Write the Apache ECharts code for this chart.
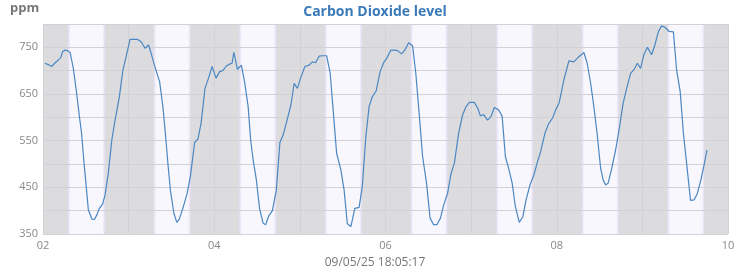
<!DOCTYPE html>
<html>
<head>
<meta charset="utf-8">
<script src="https://cdn.jsdelivr.net/npm/echarts@6/dist/echarts.min.js"></script>
<style>
html,body{margin:0;padding:0;background:#fff;}
#chart{width:750px;height:270px;}
</style>
</head>
<body>
<div id="chart"></div>
<script>
// hours since 02 00:00
const hours = [0.5,1.5,2.4,3.4,4.3,5.0,5.5,6.2,6.8,7.6,8.5,9.3,10.2,10.8,11.5,12.3,12.7,13.7,14.4,15.1,15.8,16.7,17.4,18.3,19.3,20.2,21.4,22.4,23.3,
24.4,26.5,27.5,28.6,29.6,30.3,31.5,32.7,33.6,34.3,35.0,35.7,36.7,37.5,38.2,39.2,40.4,41.3,42.5,43.4,44.3,45.4,46.4,47.4,
48.5,49.5,50.4,51.4,52.3,53.0,53.5,54.5,55.6,56.5,57.5,58.2,58.9,59.8,60.7,61.7,62.4,63.3,64.3,65.4,66.4,67.3,68.3,69.5,70.4,71.3,
72.2,73.4,74.6,75.5,76.4,77.4,78.3,79.5,80.5,81.4,82.3,83.5,84.4,85.3,86.3,87.4,88.6,89.5,90.5,91.4,92.3,93.4,94.5,95.6,
96.3,97.5,98.4,99.4,100.5,101.4,102.5,103.6,104.5,105.5,106.4,107.5,108.5,109.5,110.4,111.4,112.3,113.4,114.3,115.3,116.5,117.6,118.6,119.5,
120.9,121.9,122.6,123.5,124.6,125.6,126.5,127.7,128.7,129.6,130.5,131.5,132.4,133.5,134.5,135.4,136.5,137.6,138.5,139.5,140.7,141.7,142.8,143.7,
144.7,146.0,147.4,148.8,150.2,151.6,152.5,153.5,154.4,155.3,156.3,157.0,157.7,158.4,159.3,160.5,161.4,162.6,163.6,164.7,165.7,166.6,167.5,
168.4,169.4,170.6,171.5,172.5,173.4,174.3,175.5,176.7,177.6,178.6,179.5,180.6,181.5,182.5,183.4,184.4,185.3,186.1];
const co2 = [716,713,709,717,723,728,741,744,743,739,705,659,602,566,502,437,402,382,381,391,405,414,434,480,552,594,644,701,730,
767,767,762,748,755,737,705,676,623,566,502,444,394,375,382,405,437,473,546,553,587,662,684,709,
684,698,700,710,714,716,739,703,712,676,623,552,509,466,405,373,370,389,400,444,546,562,591,627,673,662,
684,709,712,719,717,731,732,732,694,609,523,487,444,372,366,405,407,452,559,623,644,657,698,719,
726,744,744,743,736,744,760,753,694,602,516,459,384,370,370,384,412,437,477,502,566,605,623,632,
632,619,603,606,594,602,621,616,602,516,491,459,409,375,387,423,455,477,502,527,566,586,598,616,
632,680,721,719,730,739,717,673,623,566,491,466,455,459,487,530,570,630,662,694,703,716,705,
734,750,734,755,784,796,793,784,783,701,655,566,487,422,423,437,466,498,530];
// daylight bands (hours since 02 00:00)
const dayStart = [7.0,31.0,55.0,79.0,103.0,127.0,151.0,175.0];
const dayEnd   = [17.4,41.4,65.4,89.4,113.4,137.4,161.4,185.4];
const tickLabels = ['02','','04','','06','','08','','10'];
const yLabels = ['350','450','550','650','750'];
const titleText = 'Carbon Dioxide level';
const unitText = 'ppm';
const stampText = '09/05/25 18:05:17';

const Y_MIN = 350, Y_MAX = 800;
const chart = echarts.init(document.getElementById('chart'));
const lineData = hours.map((h,i)=>[h, co2[i]]);
const bandData = dayStart.map((s,i)=>[s, dayEnd[i]]);
const bandFill = new echarts.graphic.LinearGradient(0,0,1,0,[
  {offset:0,color:'#e3daf2'},{offset:0.07,color:'#f9f7fe'},
  {offset:0.93,color:'#f9f7fe'},{offset:1,color:'#e3daf2'}]);

chart.setOption({
  animation:false,
  backgroundColor:'#ffffff',
  title:{text:titleText,left:'center',top:0,
    textStyle:{fontFamily:'Open Sans',fontSize:14,fontWeight:'bold',color:'#3b7ab8'}},
  graphic:[
    {type:'text',left:10,top:2,style:{text:unitText,font:'bold 13px "Open Sans"',fill:'#777'}},
    {type:'text',left:'center',top:257,style:{text:stampText,font:'12px "Open Sans"',fill:'#777'}}
  ],
  grid:{left:43,right:22,top:24,bottom:36,show:true,backgroundColor:'#dcdcdf',borderWidth:0},
  xAxis:{type:'value',min:0,max:192,interval:24,z:3,
    axisLine:{show:false},axisTick:{show:false},
    axisLabel:{color:'#888',fontFamily:'Open Sans',fontSize:11,margin:6,
      formatter:(v)=>tickLabels[Math.round(v/24)]||''},
    splitLine:{show:true,lineStyle:{color:'#d2d2d6',width:1}}},
  yAxis:{type:'value',min:Y_MIN,max:Y_MAX,interval:50,z:3,
    axisLine:{show:false},axisTick:{show:false},
    axisLabel:{color:'#888',fontFamily:'Open Sans',fontSize:11,margin:5,
      formatter:(v)=>yLabels.indexOf(String(v))>=0?String(v):''},
    splitLine:{show:true,lineStyle:{color:'#d2d2d6',width:1}}},
  series:[
    {type:'custom',z:1,silent:true,data:bandData,encode:{x:[0,1]},
      renderItem:(params,api)=>{
        const a = api.coord([api.value(0),Y_MAX]);
        const b = api.coord([api.value(1),Y_MIN]);
        return {type:'rect',shape:{x:a[0],y:a[1],width:b[0]-a[0],height:b[1]-a[1]},
          style:{fill:bandFill}};
      }},
    {type:'line',z:5,data:lineData,showSymbol:false,symbol:'none',
      lineStyle:{color:'#4a87c2',width:1.2}}
  ]
});
</script>
</body>
</html>
